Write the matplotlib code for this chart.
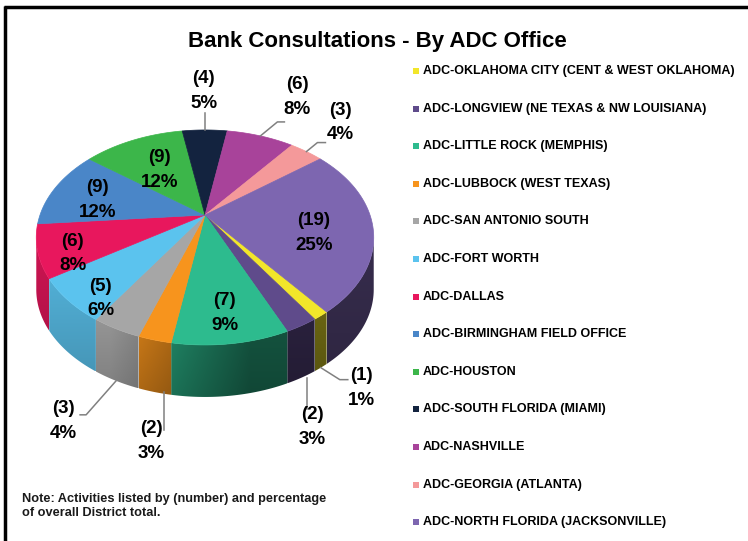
import numpy as np
import matplotlib.pyplot as plt
from matplotlib.patches import Polygon, Rectangle
import matplotlib.colors as mcolors

offices = [
    "ADC-OKLAHOMA CITY (CENT & WEST OKLAHOMA)",
    "ADC-LONGVIEW (NE TEXAS & NW LOUISIANA)",
    "ADC-LITTLE ROCK (MEMPHIS)",
    "ADC-LUBBOCK (WEST TEXAS)",
    "ADC-SAN ANTONIO SOUTH",
    "ADC-FORT WORTH",
    "ADC-DALLAS",
    "ADC-BIRMINGHAM FIELD OFFICE",
    "ADC-HOUSTON",
    "ADC-SOUTH FLORIDA (MIAMI)",
    "ADC-NASHVILLE",
    "ADC-GEORGIA (ATLANTA)",
    "ADC-NORTH FLORIDA (JACKSONVILLE)",
]
consultations = [1, 2, 7, 2, 3, 5, 6, 9, 9, 4, 6, 3, 19]
percent_labels = [1, 3, 9, 3, 4, 6, 8, 12, 12, 5, 8, 4, 25]

colors = ["#f2e62a", "#5f4b8b", "#2dbb8e", "#f7941d", "#a6a6a6", "#5bc3ee",
          "#e8175d", "#4a86c8", "#3cb64a", "#13233f", "#a8439a", "#f4999a",
          "#7d66b0"]

# label placement: inside labels -> (radius, angle shift); outside -> leader offsets
inside_labels = {2: (0.80, 0), 5: (0.88, 7), 6: (0.82, 6), 7: (0.69, 4),
                 8: (0.57, 1), 12: (0.66, -8)}
# (start dx, elbow dx, elbow dy, end dx, text dx, text dy) relative to rim anchor
outside_labels = {0: (0, 19, 12, 27, 41, 20), 1: (5, 5, 31, 5, 11, 49),
                  3: (9, 9, 38, 9, -3, 49), 4: (0, -30, 34, -36, -53, 40),
                  9: (0, 0, -17, 0, -1, -39), 10: (0, 17, -14, 24, 37, -39),
                  11: (0, 11, -9, 19, 34, -29)}

W, H = 748, 541
fig = plt.figure(figsize=(W / 100, H / 100), dpi=100)
ax = fig.add_axes([0, 0, 1, 1])
ax.axis("off")

# frame lines (top and left)
ax.plot([4, W], [7, 7], color="black", lw=2.5, solid_capstyle="butt")
ax.plot([5.5, 5.5], [6, H], color="black", lw=2.5, solid_capstyle="butt")

# 3d pie geometry (pixels)
cx, cy = 205, 215
A, B, k = 165, 102.8, 0.209
depth = 52
start = -52


def project(theta, r=1.0):
    t = np.radians(theta)
    u = r * np.cos(t)
    v = -r * np.sin(t)
    w = 1 - k * v
    return cx + A * u / w, cy + B * v / w


def side_wall(c, lo, hi):
    ts = np.linspace(lo, hi, 50)
    top = [project(t) for t in ts]
    bot = [(x, y + depth) for x, y in top[::-1]]
    poly = Polygon(top + bot, closed=True, facecolor="none", edgecolor="none")
    ax.add_patch(poly)
    xs = np.array([p[0] for p in top + bot])
    ys = np.array([p[1] for p in top + bot])
    x0, x1, y0, y1 = xs.min(), xs.max(), ys.min(), ys.max()
    gx = np.linspace(x0, x1, 80)
    gy = np.linspace(0, 1, 40)
    fx = 0.86 - 0.44 * np.clip((gx - 110) / 140, 0, 1)
    fy = 1.04 - 0.14 * gy
    F = fy[:, None] * fx[None, :]
    img = np.clip(F[..., None] * np.array(mcolors.to_rgb(c))[None, None, :], 0, 1)
    im = ax.imshow(img, extent=(x0, x1, y1, y0), origin="upper",
                   interpolation="bilinear", aspect="auto", zorder=1)
    im.set_clip_path(poly)


total = sum(consultations)
bounds = start - 360 * np.concatenate([[0], np.cumsum(consultations)]) / total

# side walls (visible front part, -168 .. -12 deg)
for i, c in enumerate(colors):
    t_hi, t_lo = bounds[i], bounds[i + 1]
    for shift in (0, 360):
        lo = max(t_lo + shift, -168)
        hi = min(t_hi + shift, -12)
        if hi > lo:
            side_wall(c, lo, hi)

# top faces
for i, c in enumerate(colors):
    ts = np.linspace(bounds[i], bounds[i + 1], 60)
    pts = [(cx, cy)] + [project(t) for t in ts]
    ax.add_patch(Polygon(pts, closed=True, facecolor=c, edgecolor=c, lw=0.5, zorder=2))

# data labels
lab_font = dict(family=["Liberation Sans", "DejaVu Sans"], fontweight="bold",
                fontsize=13.5, color="black", ha="center", va="center",
                linespacing=1.6, zorder=4)
for i, n in enumerate(consultations):
    txt = f"({n})\n{percent_labels[i]}%"
    mid = (bounds[i] + bounds[i + 1]) / 2
    if i in inside_labels:
        r, dt = inside_labels[i]
        x, y = project(mid + dt, r)
        ax.text(x, y, txt, **lab_font)
    else:
        sx, ex, ey, endx, tx, ty = outside_labels[i]
        x, y = project(mid)
        if -168 <= ((mid + 180) % 360) - 180 <= -12:
            y += depth
        ax.plot([x + sx, x + ex, x + endx], [y, y + ey, y + ey], color="#808080",
                lw=1.1, zorder=3)
        ax.text(x + tx, y + ty, txt, **lab_font)

# title
ax.text(377, 42, "Bank Consultations - By ADC Office", ha="center", va="center",
        fontsize=16, fontweight="bold", family=["Liberation Sans", "DejaVu Sans"])

# legend
for i, (name, c) in enumerate(zip(offices, colors)):
    y = 71 + i * 37.6
    ax.add_patch(Rectangle((413, y - 3), 6, 6, facecolor=c, edgecolor="none"))
    ax.text(423, y, name, ha="left", va="center", fontsize=9, fontweight="bold",
            family=["Liberation Sans", "DejaVu Sans"])

# note
ax.text(22, 506, "Note: Activities listed by (number) and percentage\nof overall District total.",
        ha="left", va="center", fontsize=9.2, fontweight="bold",
        family=["Liberation Sans", "DejaVu Sans"], linespacing=1.15, color="#1a1a1a")

ax.set_xlim(0, W)
ax.set_ylim(H, 0)
fig.savefig("out.png", dpi=100)
